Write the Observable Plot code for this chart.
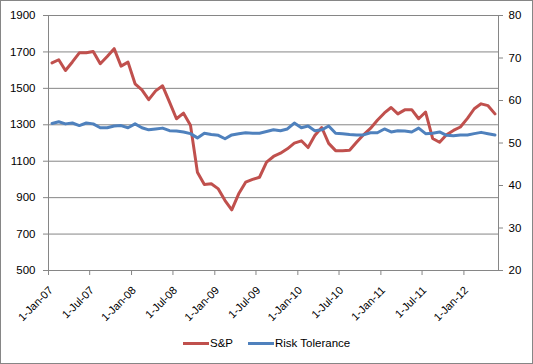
<!DOCTYPE html>
<html>
<head>
<meta charset="utf-8">
<script src="https://cdn.jsdelivr.net/npm/d3@7"></script>
<script src="https://cdn.jsdelivr.net/npm/@observablehq/plot@0.6"></script>
<style>
  html, body { margin: 0; padding: 0; background: #fff; }
  #wrap { position: relative; width: 533px; height: 364px; font-family: "Liberation Sans", Arial, sans-serif; }
  #border { position: absolute; left: 0; top: 0; width: 533px; height: 364px; box-sizing: border-box; border: 1px solid #868686; pointer-events: none; }
  .lg-sw { position: absolute; height: 3px; width: 26px; top: 342px; }
  .lg-tx { position: absolute; top: 336px; font-size: 11.5px; line-height: 14px; color: #000; }
</style>
</head>
<body>
<div id="wrap">
  <div id="chart"></div>
  <div class="lg-sw" style="left:183px;background:#C0504D"></div>
  <div class="lg-tx" style="left:210px">S&amp;P</div>
  <div class="lg-sw" style="left:248px;background:#4F81BD"></div>
  <div class="lg-tx" style="left:275px">Risk Tolerance</div>
  <div id="border"></div>
</div>
<script>
// Monthly data, Jan 2007 – May 2012
const startMonth = new Date(Date.UTC(2007, 0, 1));
const endMonth = new Date(Date.UTC(2012, 5, 1));
const spValues = [1640,1657,1598,1645,1695,1695,1702,1635,1675,1718,
  1622,1644,1525,1492,1438,1486,1514,1424,1333,1364,
  1298,1040,972,976,948,884,833,921,985,1000,
  1012,1095,1126,1144,1168,1199,1212,1175,1241,1285,
  1198,1158,1158,1160,1204,1245,1280,1325,1365,1395,
  1360,1382,1383,1333,1370,1225,1204,1245,1269,1288,
  1335,1388,1415,1405,1360];
const riskTolerance = [54.6,55.0,54.5,54.7,54.1,54.7,54.5,53.6,53.6,54.0,
  54.1,53.6,54.5,53.6,53.1,53.3,53.5,52.9,52.8,52.6,
  52.2,51.2,52.3,52.0,51.8,51.0,51.9,52.2,52.4,52.3,
  52.3,52.7,53.1,52.9,53.3,54.7,53.6,54.0,52.9,53.1,
  54.0,52.3,52.2,52.0,51.9,51.9,52.4,52.4,53.3,52.6,
  52.9,52.8,52.6,53.5,52.2,52.3,52.6,51.8,51.7,51.9,
  51.9,52.2,52.5,52.2,51.9];
const leftTicks = [500,700,900,1100,1300,1500,1700,1900];
const rightTicks = [20,30,40,50,60,70,80];
const xTickDates = ["2007-01-01","2007-07-01","2008-01-01","2008-07-01","2009-01-01","2009-07-01",
  "2010-01-01","2010-07-01","2011-01-01","2011-07-01","2012-01-01"].map(s => new Date(s + "T00:00:00Z"));

const months = d3.utcMonth.range(startMonth, endMonth);
const data = months.map((m, i) => ({
  date: new Date((+m + +d3.utcMonth.offset(m, 1)) / 2),
  sp: spValues[i],
  rt: riskTolerance[i]
}));

// secondary axis mapped into primary domain
const leftDom = [500, 1900], rightDom = [20, 80];
const yR = v => leftDom[0] + (v - rightDom[0]) / (rightDom[1] - rightDom[0]) * (leftDom[1] - leftDom[0]);
const fmt = d3.utcFormat("%-d-%b-%y");
const grid = "#868686";

const chart = Plot.plot({
  width: 533,
  height: 364,
  marginLeft: 48,
  marginRight: 35,
  marginTop: 15,
  marginBottom: 94,
  style: { fontFamily: "Liberation Sans, Arial, sans-serif", fontSize: "11.5px", color: "#000", background: "transparent" },
  x: { type: "utc", domain: [startMonth, endMonth], axis: null },
  y: { domain: leftDom, axis: null },
  marks: [
    Plot.ruleY(leftTicks, { y: d => d, stroke: grid, insetLeft: -5 }),
    Plot.ruleX([startMonth], { stroke: grid, y1: leftDom[0], y2: leftDom[1] }),
    Plot.ruleX([endMonth], { stroke: grid, y1: leftDom[0], y2: leftDom[1] }),
    Plot.ruleX(xTickDates, { x: d => d, y1: leftDom[0], y2: leftDom[0], insetBottom: -5, stroke: grid }),
    Plot.ruleY(rightTicks, { y: d => yR(d), x1: endMonth, x2: endMonth, insetRight: -5, stroke: grid }),
    Plot.text(leftTicks, { y: d => d, frameAnchor: "left", textAnchor: "end", dx: -13, text: d => String(d), fill: "#000" }),
    Plot.text(rightTicks, { y: d => yR(d), frameAnchor: "right", textAnchor: "start", dx: 10, text: d => String(d), fill: "#000" }),
    Plot.text(xTickDates, { x: d => d, frameAnchor: "bottom", rotate: -45, textAnchor: "end", dx: 5, dy: 20.5, fontSize: 11, text: d => fmt(d), fill: "#000" }),
    Plot.line(data, { x: "date", y: "sp", stroke: "#C0504D", strokeWidth: 3, strokeLinejoin: "round", strokeLinecap: "round" }),
    Plot.line(data, { x: "date", y: d => yR(d.rt), stroke: "#4F81BD", strokeWidth: 3, strokeLinejoin: "round", strokeLinecap: "round" })
  ]
});
document.getElementById("chart").appendChild(chart);
</script>
</body>
</html>
